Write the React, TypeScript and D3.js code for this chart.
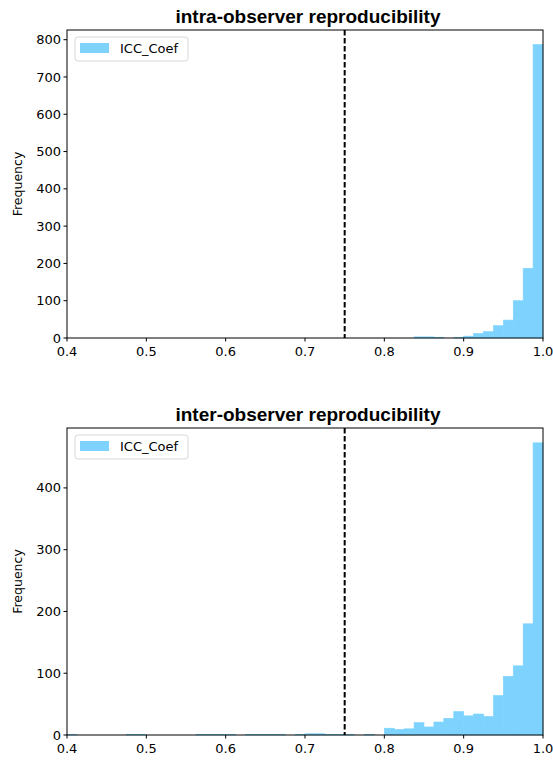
import React from "react";
import { scaleLinear } from "d3";

// histogram bins (lower edge) and counts
const binWidth = 0.0125;

const intraBinStart = [0.8375, 0.85, 0.8625, 0.8875, 0.9, 0.9125, 0.925, 0.9375, 0.95, 0.9625, 0.975, 0.9875];
const intraCounts = [3, 3, 2, 2, 5, 12, 17, 33, 48, 100, 187, 787];

const interBinStart = [
  0.4, 0.475, 0.4875, 0.5625, 0.575, 0.5875, 0.6, 0.625, 0.6375, 0.65, 0.6625, 0.6875,
  0.7, 0.7125, 0.725, 0.7375, 0.75, 0.775,
  0.8, 0.8125, 0.825, 0.8375, 0.85, 0.8625, 0.875, 0.8875, 0.9, 0.9125, 0.925, 0.9375,
  0.95, 0.9625, 0.975, 0.9875,
];
const interCounts = [
  1, 1, 1, 1, 1, 1, 1, 1, 1, 1, 1, 1,
  2, 2, 1, 1, 1, 1,
  11, 9, 10, 20, 13, 21, 27, 38, 31, 34, 30, 64,
  95, 112, 180, 473,
];

const xTicks = [0.4, 0.5, 0.6, 0.7, 0.8, 0.9, 1.0];
const intraYTicks = [0, 100, 200, 300, 400, 500, 600, 700, 800];
const interYTicks = [0, 100, 200, 300, 400];
const threshold = 0.75;

const barColor = "#7dd3fd";
const tickFont = "DejaVu Sans, sans-serif";

function Panel({ top, bottom, title, starts, counts, yMax, yTicks }) {
  const left = 67;
  const right = 543;
  const x = scaleLinear().domain([0.4, 1.0]).range([left, right]);
  const y = scaleLinear().domain([0, yMax]).range([bottom, top]);

  return (
    <g>
      <text x={(left + right) / 2 + 3} y={top - 7} textAnchor="middle"
        fontFamily="Liberation Sans, Arial, sans-serif" fontWeight="bold" fontSize={19}>
        {title}
      </text>

      {starts.map((s, i) => (
        <rect key={i} x={x(s)} width={x(s + binWidth) - x(s)}
          y={y(counts[i])} height={bottom - y(counts[i])}
          fill={barColor} stroke={barColor} strokeWidth={0.6} />
      ))}

      <line x1={x(threshold)} x2={x(threshold)} y1={top} y2={bottom}
        stroke="black" strokeWidth={2} strokeDasharray="5.5,2.5" />

      {/* axes frame */}
      <rect x={left} y={top} width={right - left} height={bottom - top}
        fill="none" stroke="black" strokeWidth={1} />

      {xTicks.map(t => (
        <g key={t}>
          <line x1={x(t)} x2={x(t)} y1={bottom} y2={bottom + 3.5} stroke="black" />
          <text x={x(t)} y={bottom + 18} textAnchor="middle" fontFamily={tickFont} fontSize={13}>
            {t.toFixed(1)}
          </text>
        </g>
      ))}
      {yTicks.map(t => (
        <g key={t}>
          <line x1={left - 3.5} x2={left} y1={y(t)} y2={y(t)} stroke="black" />
          <text x={left - 6} y={y(t)} dy="0.35em" textAnchor="end" fontFamily={tickFont} fontSize={13}>
            {t}
          </text>
        </g>
      ))}

      <text transform={`translate(22, ${(top + bottom) / 2}) rotate(-90)`} textAnchor="middle"
        fontFamily={tickFont} fontSize={12.5}>
        Frequency
      </text>

      {/* legend */}
      <g transform={`translate(${left + 8}, ${top + 7})`}>
        <rect width={113} height={24} rx={3} fill="white" stroke="#d8d8d8" />
        <rect x={5} y={6} width={29} height={10} fill={barColor} />
        <text x={45} y={16} fontFamily={tickFont} fontSize={13}>ICC_Coef</text>
      </g>
    </g>
  );
}

export default function App() {
  return (
    <svg width={553} height={762} style={{ position: "absolute", left: 0, top: 0, background: "white" }}>
      <Panel top={30} bottom={338} title="intra-observer reproducibility"
        starts={intraBinStart} counts={intraCounts} yMax={826} yTicks={intraYTicks} />
      <Panel top={428} bottom={735} title="inter-observer reproducibility"
        starts={interBinStart} counts={interCounts} yMax={497} yTicks={interYTicks} />
    </svg>
  );
}
